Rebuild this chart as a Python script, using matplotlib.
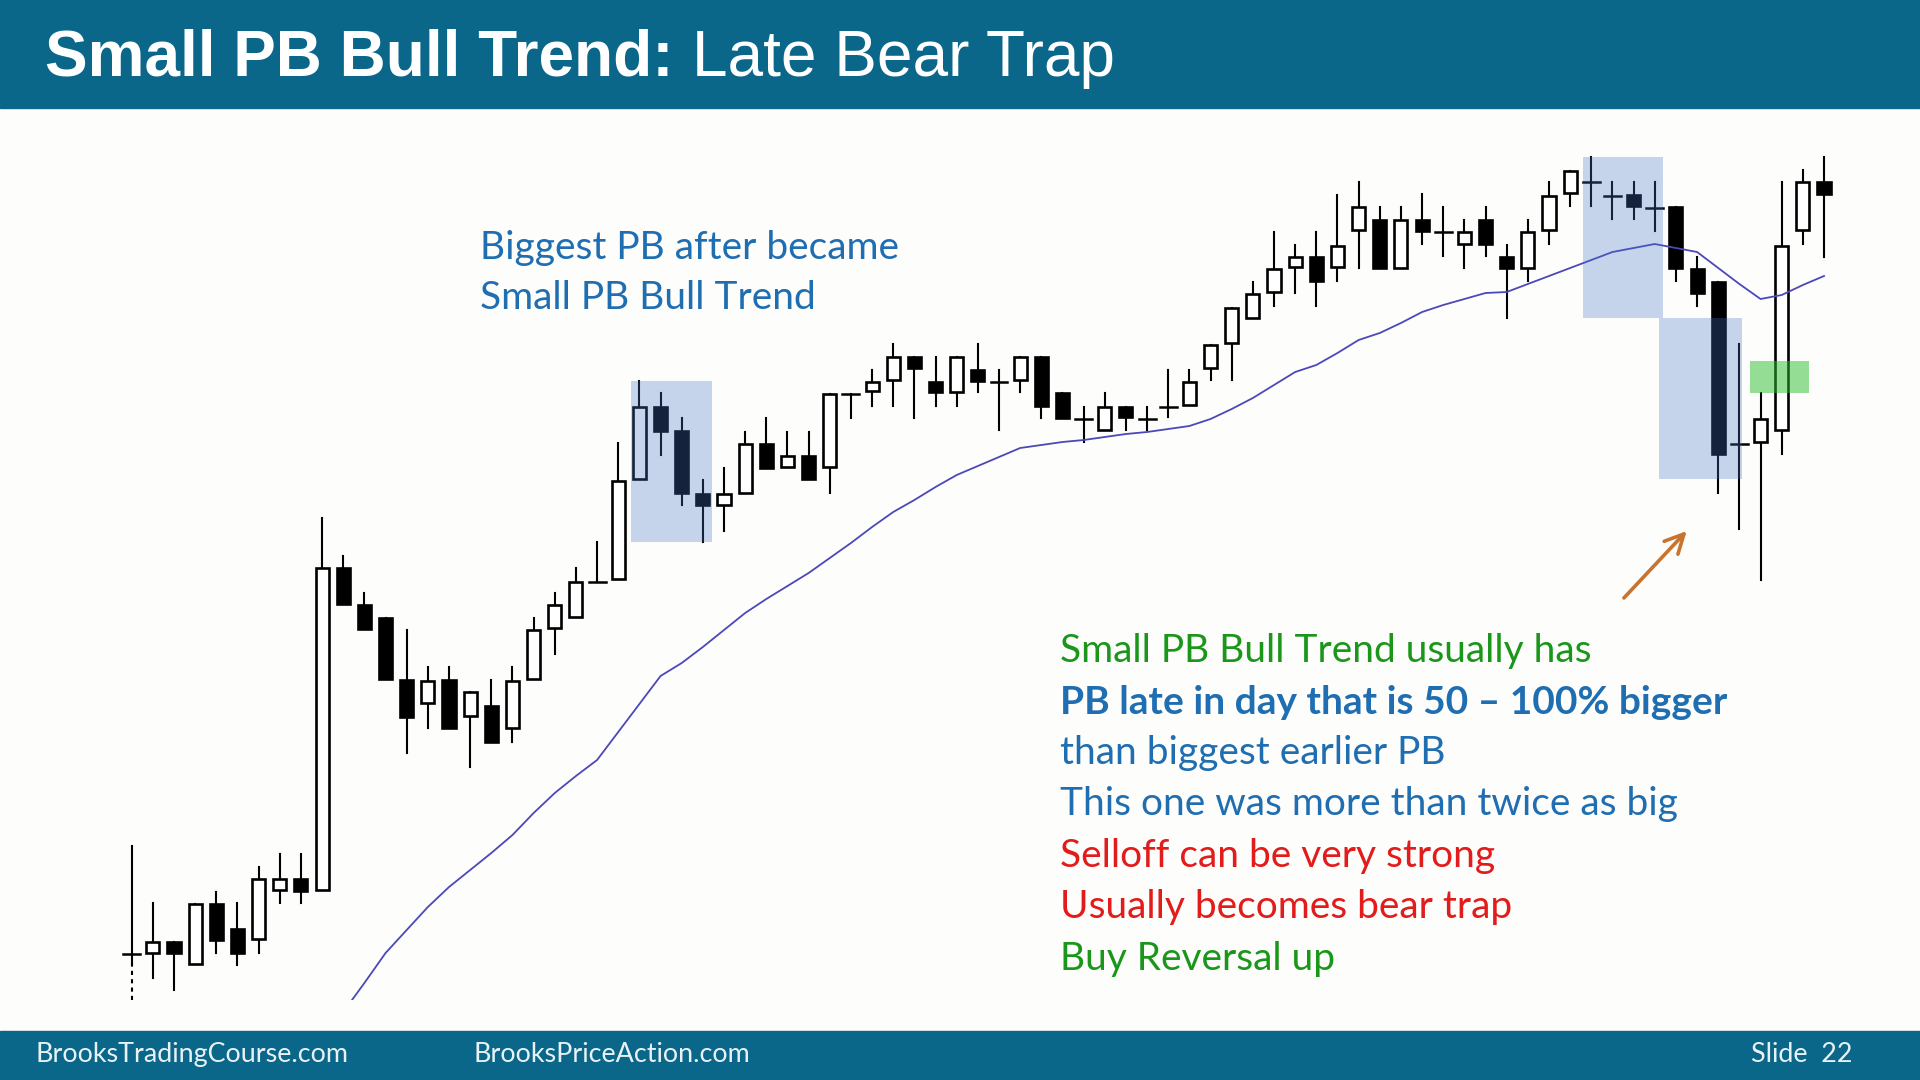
import matplotlib
matplotlib.use("Agg")
import matplotlib.pyplot as plt
from matplotlib.patches import Rectangle
import numpy as np

# 5-min bars, prices in chart ticks
opens = [46, 47, 58, 36, 96, 71, 61, 110, 121, 110, 432, 395, 382, 320, 297, 320, 284, 294, 272, 321,
         372, 383, 418, 421, 521, 593, 569, 506, 495, 507, 556, 533, 544, 533, 606, 609, 620, 643, 618, 608,
         630, 618, 620, 643, 607, 581, 570, 593, 581, 593, 595, 632, 657, 682, 708, 733, 743, 733, 770, 780,
         732, 780, 768, 756, 780, 743, 732, 770, 807, 818, 804, 805, 792, 793, 731, 718, 556, 558, 570, 770, 818]
highs = [154, 97, 58, 96, 108, 97, 133, 146, 146, 482, 444, 407, 382, 370, 333, 333, 308, 320, 333, 382,
         407, 432, 458, 557, 619, 607, 582, 520, 532, 568, 582, 568, 568, 606, 606, 630, 656, 643, 643, 643,
         656, 630, 643, 643, 607, 593, 607, 593, 593, 630, 630, 655, 692, 718, 768, 755, 768, 805, 818, 793,
         793, 806, 793, 780, 793, 755, 780, 818, 829, 843, 818, 818, 818, 793, 743, 718, 656, 607, 818, 830, 843]
lows = [0, 22, 10, 36, 47, 35, 47, 97, 97, 110, 396, 371, 321, 247, 272, 272, 233, 258, 258, 321,
        346, 383, 418, 421, 521, 545, 495, 458, 469, 507, 532, 533, 521, 507, 582, 594, 594, 582, 594, 594,
        608, 570, 608, 582, 582, 558, 570, 570, 570, 583, 595, 620, 620, 682, 694, 707, 694, 719, 732, 732,
        732, 756, 744, 732, 744, 682, 719, 756, 794, 794, 781, 781, 769, 719, 694, 507, 471, 420, 546, 756, 743]
closes = [46, 58, 47, 96, 60, 47, 121, 121, 109, 432, 396, 371, 321, 283, 319, 272, 308, 258, 319, 370,
          395, 418, 418, 519, 593, 569, 507, 495, 506, 556, 532, 544, 521, 606, 606, 618, 643, 632, 608, 643,
          619, 618, 643, 594, 582, 581, 593, 583, 581, 593, 618, 655, 692, 706, 731, 743, 719, 754, 793, 732,
          780, 769, 768, 768, 756, 732, 768, 804, 829, 818, 804, 794, 792, 732, 707, 546, 556, 581, 754, 818, 806]
# 20 bar EMA as drawn on the slide (starts below the visible range)
ema = [np.nan] * 10 + [-12, 17, 47, 70, 93, 113, 130, 147, 165, 187,
                       207, 224, 240, 268, 296, 324, 337, 353, 370, 387,
                       401, 414, 427, 442, 457, 473, 488, 500, 513, 525,
                       534, 543, 552, 555, 558, 560, 563, 566, 568, 571,
                       574, 581, 591, 602, 615, 628, 635, 647, 660, 667,
                       677, 688, 695, 701, 707, 708, 716, 724, 732, 740,
                       748, 752, 756, 752, 748, 732, 716, 701, 705, 715, 724]

notes = [("Small PB Bull Trend usually has", "#1A961A", "normal"),
         ("PB late in day that is 50 \u2013 100% bigger", "#1F6EB2", "bold"),
         ("than biggest earlier PB", "#1F6EB2", "normal"),
         ("This one was more than twice as big", "#1F6EB2", "normal"),
         ("Selloff can be very strong", "#E21B1B", "normal"),
         ("Usually becomes bear trap", "#E21B1B", "normal"),
         ("Buy Reversal up", "#1A961A", "normal")]

W, H = 1920, 1080
teal = "#0A6789"
fig = plt.figure(figsize=(19.2, 10.8), dpi=100)
fig.patch.set_facecolor("#FDFDFC")

ax = fig.add_axes([0, 80 / H, 1, 892 / H])
ax.set_xlim(-131.7 / 21.154, (W - 131.7) / 21.154)
ax.set_ylim(0, 892)
ax.axis("off")

bw = 0.62
for i in range(len(opens)):
    o, h, l, c = opens[i], highs[i], lows[i], closes[i]
    if i == 0:
        ax.plot([i, i], [o, h], color="black", lw=1.5, zorder=2)
        ax.plot([i, i], [l, o - 10], color="black", lw=1.5, ls=(0, (2, 2)), zorder=2)
        ax.plot([i, i], [o - 10, o], color="black", lw=1.5, zorder=2)
    else:
        ax.plot([i, i], [l, h], color="black", lw=1.5, zorder=2)
    if o == c:
        ax.plot([i - 0.4, i + 0.4], [o, o], color="black", lw=1.8, zorder=3)
    else:
        fc = "white" if c > o else "black"
        ax.add_patch(Rectangle((i - bw / 2, min(o, c)), bw, abs(c - o), facecolor=fc,
                               edgecolor="black", lw=1.9, zorder=3))

ax.plot(range(len(ema)), ema, color="#4B48B8", lw=1.3, zorder=4)

# pullback measuring boxes (same height as the first pullback)
pb = highs[24] - lows[27]
ax.add_patch(Rectangle((23.6, lows[27]), 3.85, pb, color="#4472C4", alpha=0.3, lw=0, zorder=5))
ax.add_patch(Rectangle((68.6, highs[69] - pb), 3.8, pb, color="#4472C4", alpha=0.3, lw=0, zorder=5))
ax.add_patch(Rectangle((72.2, highs[69] - 2 * pb), 3.9, pb, color="#4472C4", alpha=0.3, lw=0, zorder=5))
ax.add_patch(Rectangle((76.5, 607), 2.8, 32, color="#2DBE2D", alpha=0.5, lw=0, zorder=5))

ax.annotate("", xy=(73.6, 471), xytext=(70.45, 400),
            arrowprops=dict(arrowstyle="->", color="#C8742F", lw=2.6, mutation_scale=34), zorder=6)

# header and footer bands
fig.patches.append(Rectangle((0, 1 - 108 / H), 1, 108 / H, transform=fig.transFigure,
                             color=teal, zorder=10))
fig.patches.append(Rectangle((0, 0), 1, 49 / H, transform=fig.transFigure, color=teal, zorder=10))

def px(x, y):
    return x / W, 1 - y / H

fig.text(*px(45, 76), "Small PB Bull Trend:", color="white", fontsize=46,
         fontweight="bold", family="Liberation Sans", zorder=11)
fig.text(*px(692, 76), "Late Bear Trap", color="white", fontsize=46,
         family="Liberation Sans", zorder=11)

ft = dict(color="#E8F2F6", fontsize=19.4, family="Lato", zorder=11, va="baseline")
fig.text(*px(35, 1062), "BrooksTradingCourse.com", **ft)
fig.text(*px(474, 1062), "BrooksPriceAction.com", **ft)
fig.text(*px(1751, 1062), "Slide  22", **ft)

fig.text(*px(480, 259), "Biggest PB after became", color="#1F6EB2", fontsize=28, family="Lato")
fig.text(*px(480, 309), "Small PB Bull Trend", color="#1F6EB2", fontsize=28, family="Lato")

base = [662, 714, 764, 815, 867, 918, 970]
for (txt, col, wt), yb in zip(notes, base):
    fig.text(*px(1060, yb), txt, color=col, fontsize=28, fontweight=wt, family="Lato")

fig.savefig("out.png", dpi=100, facecolor=fig.get_facecolor())
